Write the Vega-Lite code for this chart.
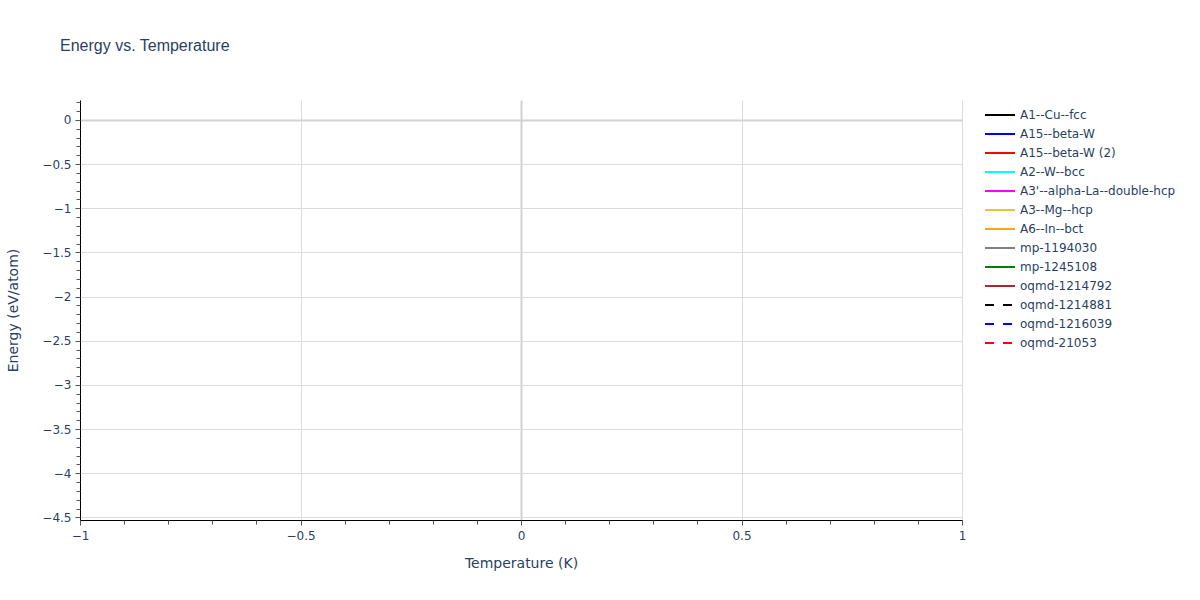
{
  "$schema": "https://vega.github.io/schema/vega-lite/v6.json",
  "width": 882,
  "height": 420,
  "autosize": "none",
  "padding": {"left": 80, "top": 100, "right": 238, "bottom": 80},
  "background": "white",
  "title": {
    "text": "Energy vs. Temperature",
    "anchor": "start",
    "frame": "group",
    "dx": -20,
    "dy": -2,
    "offset": 44,
    "fontSize": 16,
    "fontWeight": "normal",
    "color": "#2a3f5f",
    "font": "Liberation Sans"
  },
  "data": {
    "values": [
      {"series": "A1--Cu--fcc", "temperature": 0, "energy": -3.72},
      {"series": "A15--beta-W", "temperature": 0, "energy": -4.12},
      {"series": "A15--beta-W (2)", "temperature": 0, "energy": -4.05},
      {"series": "A2--W--bcc", "temperature": 0, "energy": -4.31},
      {"series": "A3'--alpha-La--double-hcp", "temperature": 0, "energy": -3.95},
      {"series": "A3--Mg--hcp", "temperature": 0, "energy": -3.98},
      {"series": "A6--In--bct", "temperature": 0, "energy": -3.64},
      {"series": "mp-1194030", "temperature": 0, "energy": -2.1},
      {"series": "mp-1245108", "temperature": 0, "energy": -1.2},
      {"series": "oqmd-1214792", "temperature": 0, "energy": -0.6},
      {"series": "oqmd-1214881", "temperature": 0, "energy": -4.45},
      {"series": "oqmd-1216039", "temperature": 0, "energy": -3.1},
      {"series": "oqmd-21053", "temperature": 0, "energy": 0.0}
    ]
  },
  "layer": [
    {
      "mark": {"type": "point", "opacity": 0},
      "encoding": {
        "x": {
          "field": "temperature",
          "type": "quantitative",
          "scale": {"domain": [-1, 1], "nice": false, "zero": false},
          "axis": {
            "orient": "bottom",
            "values": [-1, -0.9, -0.8, -0.7, -0.6, -0.5, -0.4, -0.3, -0.2, -0.1, 0, 0.1, 0.2, 0.3, 0.4, 0.5, 0.6, 0.7, 0.8, 0.9, 1],
            "labels": false,
            "grid": false,
            "domain": false,
            "ticks": true,
            "tickSize": 4,
            "tickColor": "#555",
            "title": null,
            "zindex": 1
          }
        },
        "y": {
          "field": "energy",
          "type": "quantitative",
          "scale": {"domain": [-4.53, 0.226], "nice": false, "zero": false},
          "axis": {
            "orient": "left",
            "values": [0.2, 0.1, 0, -0.1, -0.2, -0.3, -0.4, -0.5, -0.6, -0.7, -0.8, -0.9, -1, -1.1, -1.2, -1.3, -1.4, -1.5, -1.6, -1.7, -1.8, -1.9, -2, -2.1, -2.2, -2.3, -2.4, -2.5, -2.6, -2.7, -2.8, -2.9, -3, -3.1, -3.2, -3.3, -3.4, -3.5, -3.6, -3.7, -3.8, -3.9, -4, -4.1, -4.2, -4.3, -4.4, -4.5],
            "labels": false,
            "grid": false,
            "domain": false,
            "ticks": true,
            "tickSize": 4,
            "tickColor": "#555",
            "title": null,
            "zindex": 1
          }
        }
      }
    },
    {
      "mark": {"type": "line", "strokeWidth": 2},
      "encoding": {
        "x": {
          "field": "temperature",
          "type": "quantitative",
          "axis": {
            "orient": "bottom",
            "values": [-1, -0.5, 0, 0.5, 1],
            "format": "~g",
            "grid": true,
            "gridColor": {"condition": {"test": "datum.value === 0", "value": "#d2d2d2"}, "value": "#dcdcdc"},
            "gridWidth": {"condition": {"test": "datum.value === 0", "value": 2}, "value": 1},
            "domain": true,
            "domainColor": "#000",
            "domainWidth": 1,
            "ticks": true,
            "tickSize": 5,
            "tickColor": "#555",
            "labelFlush": false,
            "labelFont": "DejaVu Sans",
            "labelFontSize": 12,
            "labelColor": "#2a3f5f",
            "labelPadding": 5,
            "title": "Temperature (K)",
            "titleFont": "DejaVu Sans",
            "titleFontSize": 14,
            "titleFontWeight": "normal",
            "titleColor": "#2a3f5f",
            "titlePadding": 15
          }
        },
        "y": {
          "field": "energy",
          "type": "quantitative",
          "axis": {
            "orient": "left",
            "values": [0, -0.5, -1, -1.5, -2, -2.5, -3, -3.5, -4, -4.5],
            "format": "~g",
            "grid": true,
            "gridColor": {"condition": {"test": "datum.value === 0", "value": "#d2d2d2"}, "value": "#dcdcdc"},
            "gridWidth": {"condition": {"test": "datum.value === 0", "value": 2}, "value": 1},
            "domain": true,
            "domainColor": "#000",
            "domainWidth": 1,
            "ticks": true,
            "tickSize": 5,
            "tickColor": "#555",
            "labelFlush": false,
            "labelFont": "DejaVu Sans",
            "labelFontSize": 12,
            "labelColor": "#2a3f5f",
            "labelPadding": 4,
            "title": "Energy (eV/atom)",
            "titleFont": "DejaVu Sans",
            "titleFontSize": 14,
            "titleFontWeight": "normal",
            "titleColor": "#2a3f5f",
            "titlePadding": 21
          }
        },
        "color": {
          "field": "series",
          "type": "nominal",
          "title": null,
          "scale": {
            "domain": ["A1--Cu--fcc", "A15--beta-W", "A15--beta-W (2)", "A2--W--bcc", "A3'--alpha-La--double-hcp", "A3--Mg--hcp", "A6--In--bct", "mp-1194030", "mp-1245108", "oqmd-1214792", "oqmd-1214881", "oqmd-1216039", "oqmd-21053"],
            "range": ["#000000", "#0000ff", "#ff0000", "#00ffff", "#ff00ff", "#eec33c", "#ffa500", "#808080", "#008000", "#a52a2a", "#000000", "#0000ff", "#ff0000"]
          }
        },
        "strokeDash": {
          "field": "series",
          "type": "nominal",
          "title": null,
          "scale": {
            "domain": ["A1--Cu--fcc", "A15--beta-W", "A15--beta-W (2)", "A2--W--bcc", "A3'--alpha-La--double-hcp", "A3--Mg--hcp", "A6--In--bct", "mp-1194030", "mp-1245108", "oqmd-1214792", "oqmd-1214881", "oqmd-1216039", "oqmd-21053"],
            "range": [[1, 0], [1, 0], [1, 0], [1, 0], [1, 0], [1, 0], [1, 0], [1, 0], [1, 0], [1, 0], [9, 9], [9, 9], [9, 9]]
          }
        }
      }
    }
  ],
  "resolve": {"axis": {"x": "independent", "y": "independent"}},
  "config": {
    "view": {"stroke": null},
    "legend": {
      "orient": "none",
      "legendX": 904,
      "legendY": 9,
      "symbolType": "M-1,0H5",
      "symbolSize": 100,
      "symbolStrokeWidth": 2,
      "labelFont": "DejaVu Sans",
      "labelFontSize": 12,
      "labelColor": "#2a3f5f",
      "labelLimit": 300,
      "labelOffset": 24,
      "rowPadding": 7
    }
  }
}
